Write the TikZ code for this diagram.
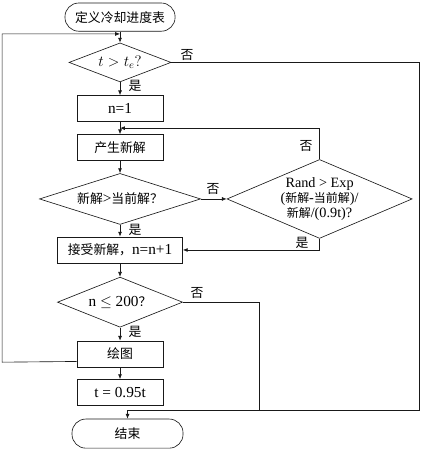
\documentclass[tikz,border=0pt]{standalone}
\usepackage{fontspec}
\setmainfont{Liberation Serif}
\newfontfamily\cjk{Noto Sans CJK SC}[Scale=0.84]
\usepackage{tikz}
\usetikzlibrary{shapes.geometric,calc,arrows.meta}

\begin{document}
\begin{tikzpicture}[font=\fontsize{14.5}{16}\selectfont,
 b/.style={draw=black!90,line width=0.6pt,align=center,inner sep=1pt},
 proc/.style={b,minimum width=28.7mm,minimum height=8.7mm},
 term/.style={b,rounded corners=4.6mm,minimum width=36.7mm,minimum height=9.4mm},
 dec/.style={b,diamond,inner sep=0pt},
 lab/.style={inner sep=0pt},
 ln/.style={draw=black!90,line width=0.6pt},
 ar/.style={ln,-{Latex[length=1.6mm,width=1.3mm]}}]
\useasboundingbox (0,0) rectangle (14.03,-15.03);
\node[term] (start) at (4.0,-0.57) {\cjk 定义冷却进度表};
\node[dec,aspect=2.6,minimum width=34mm,minimum height=13mm] (d1) at (4.0,-2.08) {$t>t_e?$};
\node[proc] (b1) at (4.0,-3.62) {n=1};
\node[proc] (b2) at (4.0,-4.92) {\cjk 产生新解};
\node[dec,aspect=3.16,minimum width=53.7mm,minimum height=17mm] (d2) at (4.0,-6.63) {{\cjk 新解}>{\cjk 当前解？}};
\node[dec,aspect=2.35,minimum width=61.7mm,minimum height=26.3mm,font=\fontsize{13.5}{14.5}\selectfont] (d3) at (10.65,-6.63)
 {Rand > Exp\\ ({\cjk 新解}-{\cjk 当前解})/\\ {\cjk 新解}/(0.9t)?};
\node[proc,minimum width=41.7mm] (b3) at (4.0,-8.33) {{\cjk 接受新解，}n=n+1};
\node[dec,aspect=2.5,minimum width=41.7mm,minimum height=16.7mm] (d4) at (4.0,-10.07) {n $\leq$ 200{\cjk ？}};
\node[proc] (b4) at (4.0,-11.8) {\cjk 绘图};
\node[proc] (b5) at (4.0,-13.08) {t = 0.95t};
\node[term,minimum width=37mm,minimum height=9.7mm] (end) at (4.25,-14.45) {\cjk 结束};
% join points and corners
\coordinate (j1) at (4.0,-1.13);
\coordinate (j2) at (4.0,-4.27);
\coordinate (out) at ($(b4.south west)+(0,0.2)$);
\coordinate (lc) at (0.07,-12.07);
\coordinate (rc) at (13.97,-13.67);
\coordinate (r2) at (8.63,-13.67);
% labels
\node[lab] (y1) at (4.5,-2.87) {\cjk 是};
\node[lab] (n1) at (6.23,-1.83) {\cjk 否};
\node[lab] (n2) at (7.1,-6.3) {\cjk 否};
\node[lab] (y2) at (4.5,-7.67) {\cjk 是};
\node[lab] (n3) at (10.2,-4.87) {\cjk 否};
\node[lab] (y3) at (10.07,-8.1) {\cjk 是};
\node[lab] (n4) at (6.57,-9.77) {\cjk 否};
\node[lab] (y4) at (4.5,-11.07) {\cjk 是};
% connectors
\draw[ar] (start) -- (d1);
\draw[ar] (out) -- (lc) |- (j1);
\draw[ar] (d1) -- (b1);
\draw[ar] (d1.east) -| (rc) -| (end.north);
\draw[ar] (b1) -- (b2);
\draw[ar] (d3.north) |- (j2);
\draw[ar] (b2) -- (d2);
\draw[ar] (d2.east) -- (d3.west);
\draw[ar] (d2) -- (b3);
\draw[ar] (d3.south) |- (b3.east);
\draw[ar] (b3) -- (d4);
\draw[ln] (d4.east) -| (r2);
\draw[ar] (d4) -- (b4);
\draw[ar] (b4) -- (b5);
\end{tikzpicture}
\end{document}
